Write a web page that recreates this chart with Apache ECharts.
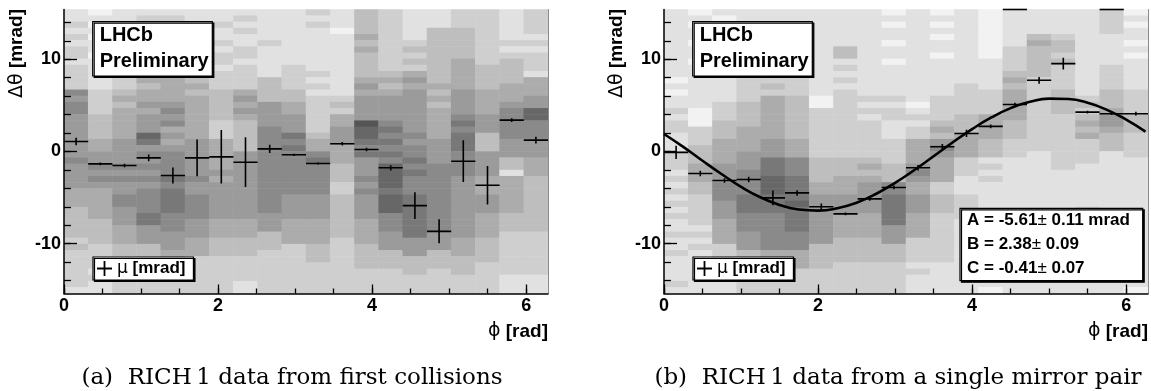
<!DOCTYPE html>
<html>
<head>
<meta charset="utf-8">
<script src="https://cdn.jsdelivr.net/npm/echarts@6/dist/echarts.min.js"></script>
<style>
  html, body { margin: 0; padding: 0; background: #fff; }
  #chart { width: 1151px; height: 391px; }
</style>
</head>
<body>
<div id="chart"></div>
<script>
// ---- values ----
const phiMax = 2 * Math.PI;
const yMin = -15.4, yMax = 15.4;
const nPhiBins = 20;

// (a) mean residual per phi bin and its error, mrad
const muA = [1.09, -1.34, -1.52, -0.69, -2.6, -0.69, -0.58, -1.16, 0.29, -0.36,
             -1.3, 0.84, 0.22, -1.77, -5.87, -8.66, -1.05, -3.66, 3.4, 1.23];
const errA = [0.4, 0.15, 0.2, 0.36, 0.87, 2.0, 2.9, 2.7, 0.45, 0.12,
              0.12, 0.18, 0.2, 0.29, 1.45, 1.3, 2.26, 2.1, 0.2, 0.36];

// (b) single mirror pair
const muB = [-0.1, -2.39, -3.15, -3.04, -5.03, -4.49, -6.0, -6.77, -5.14, -3.9,
             -1.77, 0.51, 1.96, 2.72, 5.1, 7.72, 9.53, 4.27, 4.1, 4.1];
const errB = [0.72, 0.3, 0.25, 0.3, 0.8, 0.3, 0.35, 0.15, 0.2, 0.2,
              0.3, 0.3, 0.4, 0.2, 0.2, 0.36, 0.63, 0.15, 0.15, 0.2];
// bins whose point lies above the frame (only the bar at the edge shows)
const overflowBinsB = [14, 18];

// fitted curve
const fitPhi = [0, 0.25, 0.5, 0.75, 1.0, 1.25, 1.5, 1.75, 2.0, 2.25, 2.5, 2.75, 3.0,
                3.25, 3.5, 3.75, 4.0, 4.25, 4.5, 4.75, 5.0, 5.25, 5.5, 5.75, 6.0, 6.25];
const fitVal = [1.9, 0.5, -1.01, -2.47, -3.83, -4.96, -5.79, -6.29, -6.41, -6.16, -5.55, -4.61, -3.4,
                -2.01, -0.51, 1.0, 2.43, 3.69, 4.7, 5.39, 5.73, 5.69, 5.28, 4.52, 3.46, 2.16];
const fitNames = ['A', 'B', 'C'];
const fitValues = ['-5.61', '2.38', '-0.41'];
const fitErrors = ['0.11', '0.09', '0.07'];
const fitUnits = [' mrad', '', ''];

// tick marks
const xMajor = [0, 2, 4, 6];
const xMinor = [0, 0.5, 1, 1.5, 2, 2.5, 3, 3.5, 4, 4.5, 5, 5.5, 6];
const yMajor = [-10, 0, 10];
const yMinor = [-14, -12, -10, -8, -6, -4, -2, 0, 2, 4, 6, 8, 10, 12, 14];

// 2D histogram shading (0 = empty .. 10 = full), one array per phi bin, rows top -> bottom
const densityA = [
  [1,1,2,1,2,1,2,2,1,2, 2,2,2,6,5,6,6,5,5,5, 5,5,5,5,6,5,5,5,5,4, 4,4,3,3,3,3,3,2,3,2, 2,2,2,2,2,1],
  [0,1,0,1,0,1,1,0,1,1, 1,1,1,2,2,2,2,3,3,3, 3,4,4,5,5,6,5,6,5,4, 4,4,4,4,3,3,3,3,2,2, 2,2,1,2,1,1],
  [1,1,1,1,2,1,1,1,2,1, 2,2,2,3,4,3,4,4,4,4, 4,5,5,5,5,6,5,6,5,5, 6,6,5,5,5,4,4,4,3,3, 2,2,2,2,2,2],
  [1,2,1,2,1,2,2,1,2,2, 3,4,3,4,4,5,4,5,5,5, 8,7,5,6,5,6,5,6,5,6, 6,6,6,7,7,5,5,5,3,3, 3,3,2,2,2,2],
  [1,2,1,2,2,1,2,2,1,2, 2,4,4,4,4,5,6,5,6,4, 5,4,5,6,6,6,6,7,6,7, 7,7,7,6,6,6,5,5,5,4, 4,4,2,2,2,2],
  [1,1,2,1,2,2,1,2,1,2, 2,3,4,3,4,4,4,4,4,4, 4,5,5,5,5,5,5,6,5,5, 6,6,6,6,5,5,5,4,4,4, 2,2,2,2,2,2],
  [1,1,2,1,1,2,1,2,2,1, 2,2,2,3,3,3,3,3,2,2, 2,4,4,4,4,4,5,4,5,5, 5,5,5,5,4,4,4,3,3,3, 2,2,2,2,2,2],
  [1,2,1,2,1,1,2,2,1,2, 2,2,2,4,5,4,5,4,3,3, 3,3,3,5,5,5,5,5,5,5, 5,5,5,5,4,4,4,3,3,3, 2,2,2,2,1,1],
  [1,1,1,1,1,2,1,1,1,1, 1,3,3,3,3,5,5,5,5,6, 6,6,6,6,6,6,6,6,6,6, 6,6,6,5,5,5,3,3,3,2, 2,2,2,2,2,2],
  [1,1,1,1,1,1,1,1,1,2, 2,2,2,3,3,4,4,5,5,5, 7,6,7,6,6,6,6,6,6,6, 5,5,5,5,4,4,4,4,2,2, 2,2,2,2,2,2],
  [2,1,2,1,1,1,1,1,1,1, 2,1,2,1,2,2,2,2,2,2, 3,4,4,6,7,6,6,6,6,6, 5,5,5,5,4,4,4,4,3,3, 3,2,2,2,2,2],
  [1,1,1,0,1,1,1,1,1,1, 1,1,1,1,2,3,2,4,4,5, 5,5,4,4,4,3,3,3,2,2, 3,3,3,3,3,3,3,2,2,2, 2,2,2,2,2,2],
  [3,3,3,3,4,3,4,3,3,3, 3,4,5,4,5,5,5,5,9,8, 8,7,6,7,5,5,5,6,5,6, 5,5,5,5,4,4,4,4,3,3, 3,3,2,2,2,2],
  [2,2,2,2,2,2,2,2,2,2, 3,4,3,4,5,5,5,5,6,7, 6,7,6,7,6,8,8,8,8,7, 8,8,8,6,6,6,5,5,5,3, 3,3,2,2,2,2],
  [1,1,1,1,1,2,3,2,3,2, 4,5,4,5,5,5,5,5,5,5, 6,5,6,6,7,6,7,6,6,6, 7,7,7,7,7,7,7,5,5,5, 3,3,3,2,2,2],
  [1,1,1,3,3,3,3,3,3,3, 3,3,4,3,4,3,4,4,4,4, 4,5,5,5,5,6,6,6,6,6, 6,6,6,6,6,6,5,5,5,3, 3,3,2,2,2,2],
  [2,2,2,3,3,3,3,3,4,4, 4,4,4,5,5,5,5,6,7,6, 7,7,7,6,6,6,6,5,5,5, 5,5,5,5,5,5,5,4,4,4, 3,3,3,2,2,2],
  [2,2,2,2,2,2,2,2,2,3, 3,3,3,4,4,4,4,5,5,5, 3,3,3,5,5,5,5,4,4,4, 5,5,5,4,4,4,4,3,3,3, 3,2,2,2,2,2],
  [1,1,1,1,1,2,1,2,3,3, 3,3,4,4,4,5,6,6,6,6, 6,5,5,5,3,3,1,4,4,4, 4,4,4,3,3,3,2,2,2,2, 2,2,2,1,1,1],
  [2,2,2,2,1,2,1,2,2,2, 1,4,4,4,5,5,8,8,6,6, 6,5,5,5,4,4,4,3,3,3, 3,3,3,3,3,3,2,2,2,2, 2,2,2,1,1,1]
];
const densityB = [
  [1,1,1,1,1,1,1,1,1,1, 1,0,1,0,1,1,2,1,2,2, 1,1,1,2,2,2,1,2,1,2, 1,2,1,2,1,1,2,1,1,2, 1,1,1,1,2,1],
  [0,1,0,1,1,0,1,1,0,1, 1,1,1,1,1,1,0,0,0,2, 2,2,3,3,3,4,4,4,3,3, 2,2,2,2,2,1,2,1,2,1, 1,1,1,1,1,1],
  [1,0,1,1,0,1,1,1,0,1, 1,1,1,1,1,2,2,2,3,3, 3,4,4,4,4,5,5,5,6,6, 6,5,5,5,4,4,4,4,2,2, 2,2,1,1,1,1],
  [1,1,1,1,1,1,1,1,1,1, 1,2,2,2,2,3,3,3,3,4, 4,4,4,5,5,5,6,6,6,6, 7,7,7,6,6,6,5,5,5,3, 3,3,2,2,2,2],
  [1,1,1,1,1,1,1,1,1,1, 1,2,3,2,4,4,4,4,4,4, 4,5,5,5,7,7,7,8,8,8, 7,7,7,6,6,6,6,6,6,4, 4,4,2,2,2,2],
  [1,1,1,1,1,1,1,1,1,1, 1,2,2,2,3,3,3,3,3,3, 3,4,4,4,6,6,6,7,7,7, 7,8,7,7,7,7,6,6,6,4, 4,4,2,2,2,2],
  [1,1,1,1,1,1,1,1,1,1, 1,1,1,1,0,0,2,2,2,2, 2,2,2,2,3,3,3,3,4,4, 5,5,5,5,5,5,5,5,3,3, 3,3,2,2,2,2],
  [1,1,1,1,1,1,3,3,1,2, 1,2,1,2,2,2,2,2,2,2, 2,2,2,2,3,3,3,4,4,4, 5,5,5,4,4,4,4,3,3,3, 3,2,2,2,2,2],
  [1,1,1,1,1,1,1,1,1,1, 1,1,1,1,2,1,2,1,2,2, 2,2,2,2,3,4,3,4,5,5, 5,5,5,4,4,4,4,3,3,3, 3,2,2,2,2,2],
  [0,1,0,1,1,0,1,1,0,1, 1,1,1,1,2,1,2,2,1,1, 1,2,2,2,2,3,3,3,6,6, 7,7,7,7,7,5,5,5,3,3, 3,2,2,2,2,2],
  [1,1,1,1,1,1,1,1,1,1, 1,1,1,1,1,0,1,2,1,2, 2,4,4,4,4,5,6,5,4,4, 5,5,5,4,4,4,4,2,2,2, 2,1,2,1,1,1],
  [0,1,0,1,0,1,1,0,1,1, 1,1,1,1,2,2,2,2,3,4, 3,5,6,5,4,4,4,4,2,2, 3,3,3,2,2,2,2,2,2,2, 2,1,1,1,1,1],
  [1,1,1,1,1,1,1,1,1,1, 1,1,2,2,2,2,2,3,3,3, 4,4,4,4,2,2,2,1,1,1, 2,2,2,2,1,1,1,1,1,1, 1,1,1,1,1,1],
  [0,0,0,0,0,0,0,0,1,1, 1,1,1,2,2,2,2,4,4,4, 4,3,3,3,1,2,1,2,1,1, 1,1,1,1,2,1,1,1,1,1, 1,1,1,1,1,0],
  [1,1,1,1,1,1,2,2,2,2, 3,4,3,4,4,4,4,4,3,3, 3,2,2,2,1,1,1,1,1,1, 1,1,1,1,1,1,1,1,1,1, 1,1,1,1,1,1],
  [1,1,1,1,3,4,3,3,3,3, 3,2,2,2,2,2,2,2,2,2, 2,2,2,1,1,1,1,1,1,1, 1,1,1,1,1,1,1,1,1,1, 1,1,1,1,1,1],
  [1,1,1,1,2,3,3,2,3,2, 2,2,2,3,3,3,3,2,2,2, 2,2,2,2,2,2,1,1,1,1, 1,1,1,1,1,1,1,1,1,1, 1,1,1,1,1,1],
  [1,1,1,1,1,1,1,1,1,1, 1,1,1,1,2,3,2,3,4,3, 4,2,2,2,2,1,1,1,1,1, 1,1,2,1,1,1,2,1,1,1, 1,1,1,1,1,1],
  [2,2,2,2,1,1,1,1,1,2, 2,2,2,3,3,3,4,5,5,4, 3,3,3,1,1,1,1,1,1,1, 1,1,1,1,1,1,1,1,1,1, 1,1,1,1,1,1],
  [0,1,0,1,1,0,1,0,1,1, 1,1,1,2,2,2,2,3,3,3, 2,2,2,2,1,1,1,1,1,1, 1,1,1,1,1,1,1,1,1,1, 1,1,1,1,1,0]
];

const captionA = '(a)  RICH\u20091 data from first collisions';
const captionB = '(b)  RICH\u20091 data from a single mirror pair';

// ---- build ----
const SANS = '"Liberation Sans", Arial, sans-serif';
const SYMB = '"DejaVu Sans", sans-serif';
const SERIF = '"DejaVu Serif", serif';
const binW = phiMax / nPhiBins;
const binCenter = (k) => (k + 0.5) * binW;

function pointData(mu, err) {
  return mu.map((m, k) => [binCenter(k), m, err[k]]);
}
function cellData(density) {
  const out = [];
  density.forEach((col, k) => col.forEach((d, j) => out.push([k, j, d])));
  return out;
}
function errorBars(params, api) {
  const x = api.value(0), y = api.value(1), e = api.value(2);
  const l = api.coord([x - binW / 2, y]);
  const r = api.coord([x + binW / 2, y]);
  const t = api.coord([x, y + e]);
  const b = api.coord([x, y - e]);
  const style = { stroke: '#000', lineWidth: 1.6 };
  return {
    type: 'group',
    children: [
      { type: 'line', shape: { x1: l[0], y1: l[1], x2: r[0], y2: r[1] }, style },
      { type: 'line', shape: { x1: t[0], y1: t[1], x2: b[0], y2: b[1] }, style }
    ]
  };
}

const tickLabel = { color: '#000', fontFamily: SANS, fontWeight: 'bold', fontSize: 18 };
const blackTick = { color: '#000', width: 1.3 };

function panelAxes(g) {
  const xAxes = [
    { gridIndex: g, type: 'value', min: 0, max: phiMax, position: 'bottom', z: 5,
      axisLine: { onZero: false, lineStyle: { color: '#000', width: 1.5 } },
      axisTick: { inside: true, length: 9, customValues: xMajor, lineStyle: blackTick },
      axisLabel: Object.assign({ customValues: xMajor, margin: 4 }, tickLabel),
      splitLine: { show: false } },
    { gridIndex: g, type: 'value', min: 0, max: phiMax, position: 'bottom', z: 5,
      axisLine: { show: false, onZero: false },
      axisTick: { inside: true, length: 5, customValues: xMinor, lineStyle: blackTick },
      axisLabel: { show: false }, splitLine: { show: false } },
    { gridIndex: g, type: 'category', data: densityA.map((c, k) => k), show: false }
  ];
  const yAxes = [
    { gridIndex: g, type: 'value', min: yMin, max: yMax, position: 'left', z: 5,
      axisLine: { show: true, onZero: false, lineStyle: { color: '#000', width: 1.5 } },
      axisTick: { show: true, inside: true, length: 13, customValues: yMajor, lineStyle: blackTick },
      axisLabel: Object.assign({ customValues: yMajor, margin: 3 }, tickLabel),
      splitLine: { show: false } },
    { gridIndex: g, type: 'value', min: yMin, max: yMax, position: 'left', z: 5,
      axisLine: { show: false, onZero: false },
      axisTick: { show: true, inside: true, length: 7, customValues: yMinor, lineStyle: blackTick },
      axisLabel: { show: false }, splitLine: { show: false } },
    { gridIndex: g, type: 'value', min: yMin, max: yMax, position: 'right', z: 5,
      axisLine: { show: true, onZero: false, lineStyle: { color: '#8c8c8c', width: 1 } },
      axisTick: { show: false }, axisLabel: { show: false }, splitLine: { show: false } },
    { gridIndex: g, type: 'category', inverse: true, data: densityA[0].map((c, j) => j), show: false }
  ];
  return { xAxes, yAxes };
}
const axA = panelAxes(0), axB = panelAxes(1);

function infoBox(x, y, w, h, lines, lineYs, font) {
  return [
    { type: 'rect', z: 100, shape: { x: x, y: y, width: w, height: h },
      style: { fill: '#fff', stroke: '#000', lineWidth: 1.2,
               shadowColor: '#000', shadowOffsetX: 1.5, shadowOffsetY: 1.5, shadowBlur: 0 } }
  ].concat(lines.map((t, i) => ({
    type: 'text', z: 101, x: x + 7, y: lineYs[i],
    style: Object.assign({ text: t, fill: '#000', verticalAlign: 'middle', align: 'left' }, font)
  })));
}

const boxFont = { fontFamily: SANS, fontWeight: 'bold', fontSize: 20 };
const fitFont = {
  fontFamily: SANS, fontWeight: 'bold', fontSize: 17,
  rich: { pm: { fontFamily: SANS, fontWeight: 'normal', fontSize: 17 } }
};
const fitLines = fitNames.map((n, i) =>
  n + ' = ' + fitValues[i] + '{pm|\u00b1} ' + fitErrors[i] + fitUnits[i]);

const axisTitleRich = { g: { fontFamily: SYMB, fontWeight: 'normal', fontSize: 19 } };

const legendCommon = {
  data: ['\u03bc [mrad]'], orient: 'vertical', selectedMode: false,
  icon: 'path://M0,6.6h15v1.8h-15z M6.6,0h1.8v15h-1.8z',
  itemWidth: 15, itemHeight: 15, itemGap: 0,
  backgroundColor: '#fff', borderColor: '#000', borderWidth: 1.2,
  shadowColor: '#000', shadowOffsetX: 1.5, shadowOffsetY: 1.5, shadowBlur: 0,
  padding: [3, 8, 3, 4], z: 20,
  formatter: () => '{m|\u03bc} [mrad]',
  textStyle: {
    color: '#000', fontFamily: SANS, fontWeight: 'bold', fontSize: 17,
    rich: { m: { fontFamily: SYMB, fontWeight: 'normal', fontSize: 17 } }
  }
};

function axisTitles(x0, x1) {
  return [
    { type: 'text', x: x0, y: 9, rotation: Math.PI / 2, z: 100,
      style: { text: '{g|\u0394\u03b8} [mrad]', fill: '#000', align: 'right', verticalAlign: 'middle',
               fontFamily: SANS, fontWeight: 'bold', fontSize: 19, rich: axisTitleRich } },
    { type: 'text', x: x1, y: 331.5, z: 100,
      style: { text: '{g|\u03d5} [rad]', fill: '#000', align: 'right', verticalAlign: 'middle',
               fontFamily: SANS, fontWeight: 'bold', fontSize: 19, rich: axisTitleRich } }
  ];
}
function caption(text, x) {
  return { type: 'text', x: x, y: 378, z: 100,
    style: { text: text, fill: '#000', align: 'center', verticalAlign: 'middle',
             fontFamily: SERIF, fontSize: 23 } };
}

const chart = echarts.init(document.getElementById('chart'), null, { renderer: 'canvas' });
chart.setOption({
  animation: false,
  backgroundColor: '#fff',
  grid: [
    { left: 64, top: 9.5, width: 484, height: 284 },
    { left: 664, top: 9.5, width: 484, height: 284 }
  ],
  xAxis: axA.xAxes.concat(axB.xAxes),
  yAxis: axA.yAxes.concat(axB.yAxes),
  visualMap: {
    type: 'continuous', show: false, min: 0, max: 10, seriesIndex: [0, 2],
    inRange: { color: ['#f2f2f2', '#444444'] }
  },
  legend: [
    Object.assign({ left: 93, top: 257 }, legendCommon),
    Object.assign({ left: 693, top: 257 }, legendCommon)
  ],
  series: [
    { type: 'heatmap', xAxisIndex: 2, yAxisIndex: 3, data: cellData(densityA), z: 1,
      emphasis: { disabled: true }, progressive: 0 },
    { type: 'custom', name: '\u03bc [mrad]', xAxisIndex: 0, yAxisIndex: 0, z: 6, clip: true,
      itemStyle: { color: '#000' }, renderItem: errorBars, data: pointData(muA, errA) },
    { type: 'heatmap', xAxisIndex: 5, yAxisIndex: 7, data: cellData(densityB), z: 1,
      emphasis: { disabled: true }, progressive: 0 },
    { type: 'line', xAxisIndex: 3, yAxisIndex: 4, z: 6, smooth: true, symbol: 'none', clip: true,
      lineStyle: { color: '#000', width: 2.6 },
      data: fitPhi.map((p, i) => [p, fitVal[i]]) },
    { type: 'custom', name: '\u03bc [mrad]', xAxisIndex: 3, yAxisIndex: 4, z: 6, clip: true,
      itemStyle: { color: '#000' }, renderItem: errorBars, data: pointData(muB, errB) },
    { type: 'custom', xAxisIndex: 3, yAxisIndex: 4, z: 6, clip: false,
      renderItem: errorBars, data: overflowBinsB.map((k) => [binCenter(k), yMax, 0]) }
  ],
  graphic: [].concat(
    infoBox(92.7, 21.7, 119.6, 54.3, ['LHCb', 'Preliminary'], [35, 61.5], boxFont),
    infoBox(692.7, 21.7, 119.6, 54.3, ['LHCb', 'Preliminary'], [35, 61.5], boxFont),
    infoBox(960, 208.3, 182.7, 72.4, fitLines, [220.7, 244.2, 268.3], fitFont),
    axisTitles(17, 548),
    axisTitles(617, 1148),
    [caption(captionA, 292), caption(captionB, 898)]
  )
});
</script>
</body>
</html>
